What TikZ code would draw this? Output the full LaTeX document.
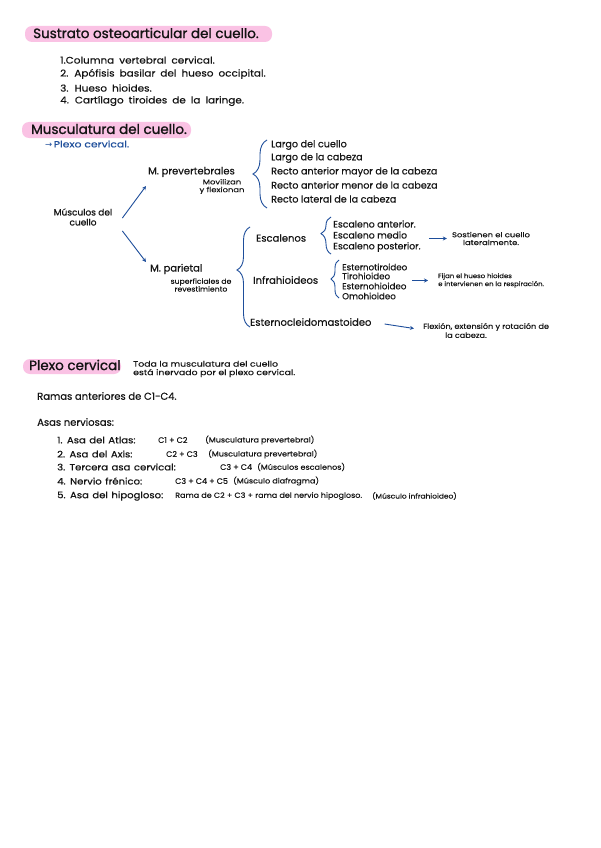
\documentclass[tikz,border=0pt]{standalone}
\usepackage{fontspec}
\setmainfont{Poppins}
\newfontfamily\symf{DejaVu Sans}
\newfontfamily\fT{Poppins}[FakeBold=1.2]
\newfontfamily\fA{Poppins}[FakeBold=0.4]
\newfontfamily\fB{Poppins}[FakeBold=0.4,FakeStretch=1.1,WordSpace=1.8]
\newfontfamily\fC{Poppins}[FakeBold=0.5,FakeStretch=1.12,WordSpace=1.3]
\newfontfamily\fS{Poppins}[FakeBold=0.2,FakeStretch=1.2]
\newfontfamily\fSS{Poppins}[FakeBold=0.2,FakeStretch=1.1]
\usetikzlibrary{arrows.meta,decorations.pathreplacing}
\definecolor{hlpink}{RGB}{250,194,228}
\definecolor{inkblue}{RGB}{30,78,155}
\definecolor{ink}{RGB}{20,20,20}
\begin{document}
\begin{tikzpicture}[x=1pt,y=1pt,
 txt/.style={anchor=west,inner sep=0pt,text=ink},
 big/.style={txt,font=\fT\fontsize{13.5}{15}\selectfont},
 body/.style={txt,font=\fA\fontsize{10}{11}\selectfont},
 plist/.style={txt,font=\fA\fontsize{9.6}{11}\selectfont},
 lst/.style={txt,font=\fB\fontsize{9.5}{11}\selectfont},
 lab/.style={txt,font=\fC\fontsize{9}{11}\selectfont},
 mid/.style={txt,font=\fA\fontsize{9.3}{10}\selectfont},
 mid2/.style={txt,font=\fA\fontsize{8.7}{10}\selectfont},
 cval/.style={txt,font=\fA\fontsize{8}{9}\selectfont},
 sm/.style={inner sep=0pt,text=ink,font=\fS\fontsize{7}{7.8}\selectfont,align=center},
 par/.style={txt,font=\fSS\fontsize{7.3}{8}\selectfont},
 hl/.style={fill=hlpink,rounded corners=7pt},
 arr/.style={draw=inkblue,line width=0.9pt,-{Stealth[length=4pt,width=4pt]}},
 brc/.style={draw=inkblue,line width=0.9pt,decorate},
]
\useasboundingbox (0,0) rectangle (600,-848);
\fill[white] (0,0) rectangle (600,-848);

% ---------- Section 1
\fill[hl] (25,-26) rectangle (272,-42);
\node[big] (t1) at (33,-33) {Sustrato osteoarticular del cuello.};
\node[lst] (s1) at (60,-60) {1.Columna vertebral cervical.};
\node[lst] (s2) at (60,-74) {2. Apófisis basilar del hueso occipital.};
\node[lst] (s3) at (60,-88) {3. Hueso hioides.};
\node[lst] (s4) at (60,-101) {4. Cartílago tiroides de la laringe.};

% ---------- Section 2
\fill[hl] (22,-122) rectangle (191,-138);
\node[big] (t2) at (31,-129) {Musculatura del cuello.};
\node[txt,text=inkblue,font=\fS\fontsize{9}{10}\selectfont] (pc) at (45,-144) {{\symf\fontsize{8.5}{9}\selectfont →}\,Plexo cervical.};

\node[txt,anchor=center,align=center,font=\fA\fontsize{9}{10}\selectfont] (mc) at (83,-217) {Músculos del\\cuello};
\node[body] (mp) at (148,-172) {M. prevertebrales};
\node[sm] (mv) at (222,-186.5) {Movilizan\\y flexionan};
\node[body] (mpa) at (150,-269) {M. parietal};
\node[sm,font=\fSS\fontsize{7}{7.8}\selectfont] (sr) at (201,-285) {superficiales de\\revestimiento};

\draw[arr] ([xshift=10pt,yshift=-1pt]mc.east) -- ([xshift=-2pt,yshift=-14pt]mp.west);
\draw[arr] ([xshift=10pt,yshift=-14pt]mc.east) -- ([xshift=-4pt,yshift=7pt]mpa.west);

% prevertebrales brace + list
\draw[brc,decoration={brace,amplitude=14pt,aspect=0.5}] (267,-208) -- (267,-140);
\node[plist] (p1) at (271,-145) {Largo del cuello};
\node[plist] (p2) at (271,-158) {Largo de la cabeza};
\node[plist] (p3) at (271,-172) {Recto anterior mayor de la cabeza};
\node[plist] (p4) at (271,-185) {Recto anterior menor de la cabeza};
\node[plist] (p5) at (271,-199) {Recto lateral de la cabeza};

% parietal brace
\draw[brc,decoration={brace,amplitude=13pt,aspect=0.57}] (250,-327) -- (250,-227);
\node[body] (esc) at (256,-238) {Escalenos};
\node[body] (inf) at (253,-280) {Infrahioideos};
\node[body] (ecm) at (250,-322) {Esternocleidomastoideo};

% escalenos
\draw[brc,decoration={brace,amplitude=10pt,aspect=0.55}] (331,-254) -- (331,-217);
\node[mid] (e1) at (333,-224) {Escaleno anterior.};
\node[mid] (e2) at (333,-235) {Escaleno medio};
\node[mid] (e3) at (333,-247) {Escaleno posterior.};
\node[sm] (sost) at (491,-238.5) {Sostienen el cuello\\lateralmente.};
\draw[arr] ([xshift=-23pt]sost.west) -- ([xshift=-5pt]sost.west);

% infrahioideos
\draw[brc,decoration={brace,amplitude=8pt,aspect=0.5}] (339,-298) -- (339,-260);
\node[mid2] (i1) at (342,-267) {Esternotiroideo};
\node[mid2] (i2) at (342,-276) {Tirohioideo};
\node[mid2] (i3) at (342,-286) {Esternohioideo};
\node[mid2] (i4) at (342,-296) {Omohioideo};
\node[sm,anchor=west,align=left,font=\fSS\fontsize{6.3}{8}\selectfont] (fij) at (438,-280.5) {Fijan el hueso hioides\\e intervienen en la respiración.};
\draw[arr] ([xshift=-26pt]fij.west) -- ([xshift=-10pt]fij.west);

% ECM
\node[sm,anchor=west,align=left,font=\fSS\fontsize{7.4}{9}\selectfont] (flx) at (423,-330.5) {Flexión, extensión y rotación de\\\hspace*{22pt}la cabeza.};
\draw[arr] ([xshift=13pt,yshift=-2pt]ecm.east) -- ([xshift=-9pt,yshift=2pt]flx.west);

% ---------- Section 3
\fill[hl] (23,-359) rectangle (121,-374);
\node[big] (t3) at (29,-365) {Plexo cervical};
\node[sm,anchor=west,align=left,font=\fS\fontsize{7.8}{8.5}\selectfont] (toda) at (133,-369) {Toda la musculatura del cuello\\está inervado por el plexo cervical.};
\node[body] (ram) at (37,-396) {Ramas anteriores de C1-C4.};
\node[body] (asas) at (37,-422) {Asas nerviosas:};

\node[lab] (a1) at (57,-440) {1. Asa del Atlas:};
\node[cval] (a1b) at (158,-440) {C1 + C2};
\node[par] (a1c) at (205,-440) {(Musculatura prevertebral)};

\node[lab] (a2) at (57,-454) {2. Asa del Axis:};
\node[cval] (a2b) at (166,-454) {C2 + C3};
\node[par] (a2c) at (208,-454) {(Musculatura prevertebral)};

\node[lab] (a3) at (57,-467) {3. Tercera asa cervical:};
\node[cval] (a3b) at (220,-467) {C3 + C4};
\node[par] (a3c) at (257,-467) {(Músculos escalenos)};

\node[lab] (a4) at (57,-481) {4. Nervio frénico:};
\node[cval] (a4b) at (175,-481) {C3 + C4 + C5};
\node[par] (a4c) at (233,-481) {(Músculo diafragma)};

\node[lab] (a5) at (57,-496) {5. Asa del hipogloso:};
\node[txt,font=\fSS\fontsize{7.3}{8}\selectfont] (a5b) at (175,-496) {Rama de C2 + C3 + rama del nervio hipogloso.};
\node[txt,font=\fSS\fontsize{6.8}{8}\selectfont] (a5c) at (372,-496) {(Músculo infrahioideo)};
\end{tikzpicture}
\end{document}
